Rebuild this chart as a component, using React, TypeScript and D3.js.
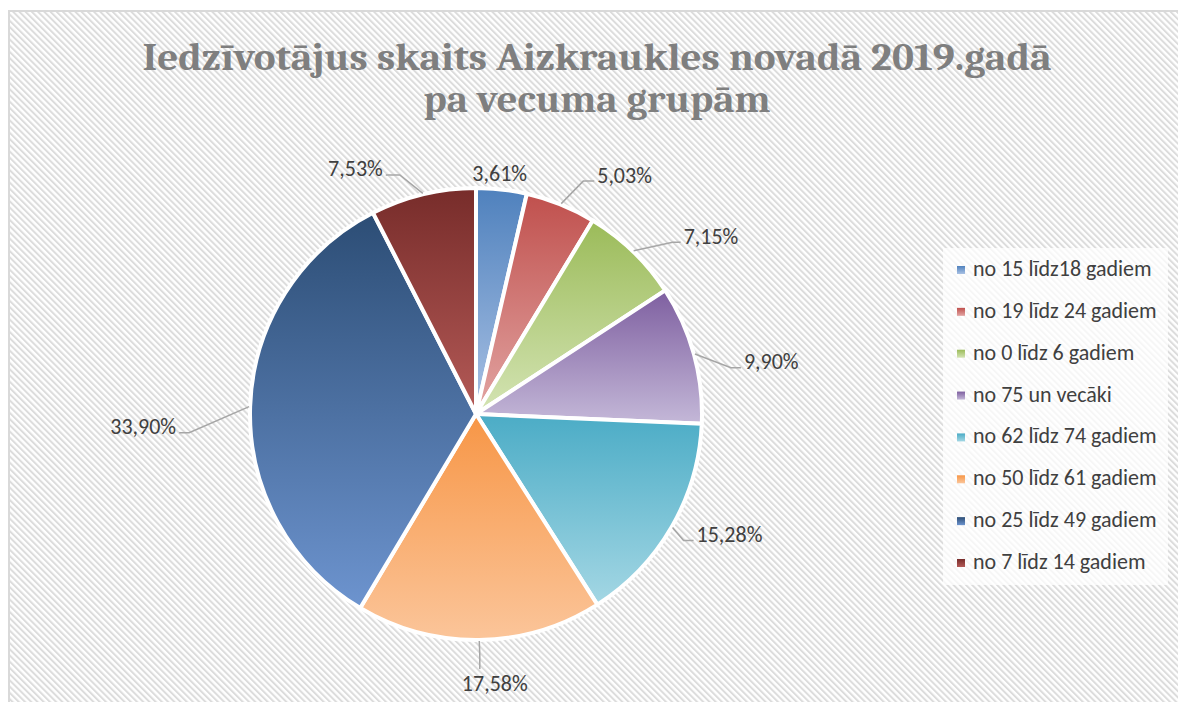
import React from "react";
import * as d3 from "d3";

const title1 = "Iedzīvotājus skaits Aizkraukles novadā 2019.gadā";
const title2 = "pa vecuma grupām";

const categories = [
  "no 15 līdz18 gadiem",
  "no 19 līdz 24 gadiem",
  "no 0 līdz 6 gadiem",
  "no 75 un vecāki",
  "no 62 līdz 74 gadiem",
  "no 50 līdz 61 gadiem",
  "no 25 līdz 49 gadiem",
  "no 7 līdz 14 gadiem",
];
const shares = [3.61, 5.03, 7.15, 9.9, 15.28, 17.58, 33.9, 7.53];

// gradient stops per slice: top (dark) -> bottom (light)
const topColors = ["#4f81bd", "#c0504d", "#9bbb59", "#7e5fa0", "#4bacc6", "#f79646", "#2c4d75", "#772c2a"];
const bottomColors = ["#a9c1e4", "#e2a5a3", "#d4e4b4", "#c4b8d8", "#a4d7e4", "#fbc59a", "#6d94cf", "#b45a57"];

// leader line layout, offsets from the slice's outer mid point: [elbowDx, elbowDy, endDx, endDy]
const leaderLayout = [
  null,
  [22, -22.5, 33, -22.5],
  [39, -8.4, 47, -8.4],
  [36, 13.8, 46, 13.8],
  [11, 13, 21, 13],
  [0.5, 14, 0.5, 28],
  [-60, 26, -70, 26],
  [-23, -18.4, -37, -18.4],
];

const W = 1178;
const H = 702;
const cx = 476;
const cy = 414;
const R = 226;

const fmt = (v: number) => v.toFixed(2).replace(".", ",") + "%";

export default function App() {
  const pie = d3.pie<number>().sort(null).value((d) => d);
  const arcs = pie(shares);
  const arc = d3.arc<d3.PieArcDatum<number>>().innerRadius(0).outerRadius(R);

  const legendY = d3.scalePoint<string>().domain(categories).range([270, 563]);

  const labelFont = "Carlito, Lato, 'Liberation Sans', sans-serif";
  const labelSize = 22;

  return (
    <div style={{ position: "absolute", left: 0, top: 0 }}>
      <svg width={W} height={H} style={{ display: "block" }}>
        <defs>
          <pattern id="hatch" width={4.4} height={4.4} patternUnits="userSpaceOnUse" patternTransform="rotate(-45)">
            <rect width={4.4} height={4.4} fill="#ffffff" />
            <rect width={2} height={4.4} fill="#dcdcdc" />
          </pattern>
          {topColors.map((c, i) => (
            <linearGradient key={i} id={`g${i}`} x1="0" y1="0" x2="0" y2="1">
              <stop offset="0" stopColor={c} />
              <stop offset="1" stopColor={bottomColors[i]} />
            </linearGradient>
          ))}
        </defs>
        <rect x={0} y={0} width={W} height={H} fill="#ffffff" />
        <rect x={9} y={11} width={W + 20} height={H + 20} fill="url(#hatch)" stroke="#d9d9d9" strokeWidth={2} />

        <g
          fill="#7f7f7f"
          fontFamily="Cambria, 'Liberation Serif', serif"
          fontWeight="bold"
          fontSize={37.5}
          textAnchor="middle"
        >
          <text x={597} y={70} textLength={909} lengthAdjust="spacingAndGlyphs">{title1}</text>
          <text x={597} y={112} textLength={347} lengthAdjust="spacingAndGlyphs">{title2}</text>
        </g>

        <g transform={`translate(${cx},${cy})`}>
          {arcs.map((a, i) => (
            <path key={i} d={arc(a) || ""} fill={`url(#g${i})`} stroke="#ffffff" strokeWidth={4} strokeLinejoin="round" />
          ))}
        </g>

        <g fontFamily={labelFont} fontSize={labelSize} fill="#404040">
          {arcs.map((a, i) => {
            const mid = (a.startAngle + a.endAngle) / 2;
            const ox = cx + Math.sin(mid) * (R + 1);
            const oy = cy - Math.cos(mid) * (R + 1);
            const lay = leaderLayout[i];
            if (!lay) {
              return (
                <text key={i} x={ox - 2} y={oy - 7.5} textAnchor="middle">
                  {fmt(shares[i])}
                </text>
              );
            }
            const ex = ox + lay[0];
            const ey = oy + lay[1];
            const px = ox + lay[2];
            const py = oy + lay[3];
            const vertical = Math.abs(lay[2]) < 2;
            const right = lay[2] > 0;
            return (
              <g key={i}>
                <polyline
                  points={`${ox},${oy} ${ex},${ey} ${px},${py}`}
                  fill="none"
                  stroke="#a6a6a6"
                  strokeWidth={1.5}
                />
                {vertical ? (
                  <text x={px + 15} y={py + 22} textAnchor="middle">
                    {fmt(shares[i])}
                  </text>
                ) : (
                  <text x={right ? px + 3 : px - 3} y={py + 1.5} textAnchor={right ? "start" : "end"}>
                    {fmt(shares[i])}
                  </text>
                )}
              </g>
            );
          })}
        </g>

        <rect x={943} y={248} width={225} height={337} fill="#ffffff" fillOpacity={0.75} />
        <g fontFamily={labelFont} fontSize={labelSize} fill="#404040">
          {categories.map((c, i) => {
            const y = legendY(c) || 0;
            return (
              <g key={c}>
                <rect x={957} y={y - 4} width={8} height={8} fill={`url(#g${i})`} />
                <text x={973} y={y + 6}>{c}</text>
              </g>
            );
          })}
        </g>
      </svg>
    </div>
  );
}
